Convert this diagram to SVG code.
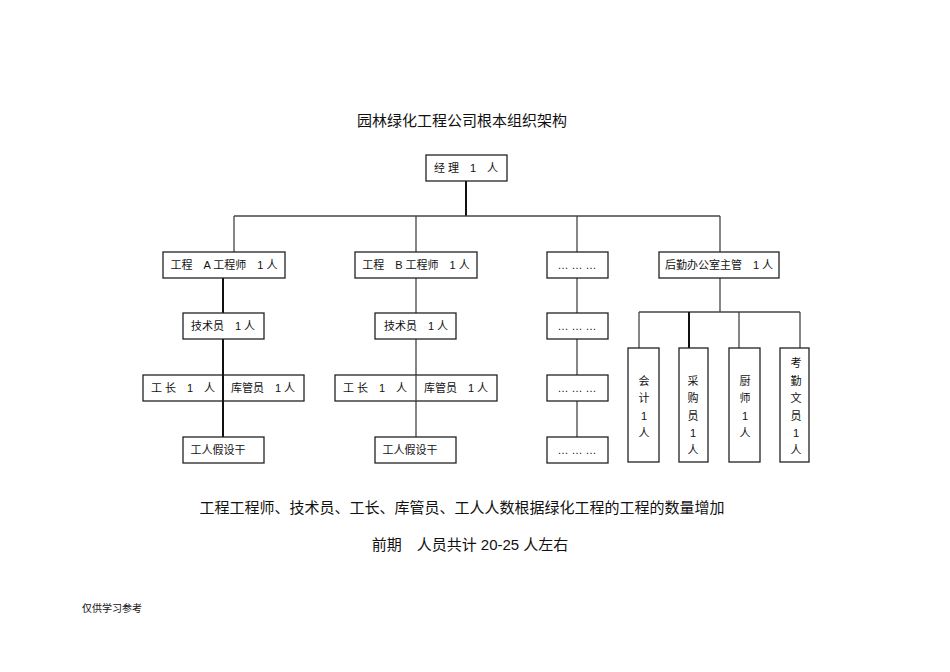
<svg xmlns="http://www.w3.org/2000/svg" width="950" height="672" viewBox="0 0 950 672">
<style>
.b{fill:#fff;stroke:#222;stroke-width:1.3}
.l{stroke:#444;stroke-width:1.3;fill:none}
.k{stroke:#111;stroke-width:2}
text{font-family:"Liberation Sans","Noto Sans CJK SC",sans-serif;font-size:11px;fill:#111;text-anchor:middle}
.t{font-size:15px}
</style>
<rect width="950" height="672" fill="#fff"/>
<g id="connectors">
<line class="k" x1="466" y1="181" x2="466" y2="216"/>
<line class="l" x1="234" y1="216" x2="720" y2="216"/>
<line class="l" x1="234" y1="216" x2="234" y2="252"/>
<line class="l" x1="416" y1="216" x2="416" y2="252"/>
<line class="l" x1="577" y1="216" x2="577" y2="252"/>
<line class="l" x1="720" y1="216" x2="720" y2="252"/>
<line class="k" x1="223" y1="278" x2="223" y2="437"/>
<line class="l" x1="416" y1="278" x2="416" y2="437"/>
<line class="l" x1="577" y1="278" x2="577" y2="437"/>
<line class="l" x1="720" y1="278" x2="720" y2="312"/>
<line class="l" x1="639" y1="312" x2="800" y2="312"/>
<line class="l" x1="639" y1="312" x2="639" y2="348"/>
<line class="k" x1="689" y1="312" x2="689" y2="348"/>
<line class="l" x1="739" y1="312" x2="739" y2="348"/>
<line class="l" x1="800" y1="312" x2="800" y2="348"/>
</g>
<text class="t" x="462" y="126">园林绿化工程公司根本组织架构</text>
<g id="mgr"><rect class="b" x="426" y="155" width="81" height="26"/><text x="466" y="172">经 理　1　人</text></g>
<g id="engA"><rect class="b" x="163" y="252" width="122" height="26"/><text x="224" y="269">工程　A 工程师　1 人</text></g>
<g id="engB"><rect class="b" x="355" y="252" width="122" height="26"/><text x="416" y="269">工程　B 工程师　1 人</text></g>
<g id="dot1"><rect class="b" x="547" y="252" width="61" height="26"/><text x="577" y="269">… … …</text></g>
<g id="log"><rect class="b" x="659" y="252" width="120" height="26"/><text x="719" y="269">后勤办公室主管　1 人</text></g>
<g id="techA"><rect class="b" x="183" y="313" width="81" height="26"/><text x="223" y="330">技术员　1 人</text></g>
<g id="techB"><rect class="b" x="375" y="313" width="81" height="26"/><text x="416" y="330">技术员　1 人</text></g>
<g id="dot2"><rect class="b" x="547" y="313" width="61" height="26"/><text x="577" y="330">… … …</text></g>
<g id="rowA"><rect class="b" x="143" y="375" width="161" height="26"/><line class="k" x1="223" y1="375" x2="223" y2="401"/><text x="183" y="392">工 长　1　人</text><text x="263" y="392">库管员　1 人</text></g>
<g id="rowB"><rect class="b" x="335" y="375" width="162" height="26"/><line class="l" x1="416" y1="375" x2="416" y2="401"/><text x="375" y="392">工 长　1　人</text><text x="456" y="392">库管员　1 人</text></g>
<g id="dot3"><rect class="b" x="547" y="375" width="61" height="26"/><text x="577" y="392">… … …</text></g>
<g id="wA"><rect class="b" x="183" y="437" width="81" height="26"/><text x="218" y="454">工人假设干</text></g>
<g id="wB"><rect class="b" x="375" y="437" width="81" height="26"/><text x="410" y="454">工人假设干</text></g>
<g id="dot4"><rect class="b" x="547" y="437" width="61" height="26"/><text x="577" y="454">… … …</text></g>
<g id="acc"><rect class="b" x="628" y="348" width="31" height="114"/><text x="644" y="385">会</text><text x="644" y="402">计</text><text x="644" y="420">1</text><text x="644" y="437">人</text></g>
<g id="pur"><rect class="b" x="679" y="348" width="29" height="114"/><text x="693" y="385">采</text><text x="693" y="402">购</text><text x="693" y="420">员</text><text x="693" y="437">1</text><text x="693" y="454">人</text></g>
<g id="chef"><rect class="b" x="729" y="348" width="31" height="114"/><text x="745" y="385">厨</text><text x="745" y="402">师</text><text x="745" y="420">1</text><text x="745" y="437">人</text></g>
<g id="clerk"><rect class="b" x="780" y="348" width="29" height="114"/><text x="796" y="367">考</text><text x="796" y="385">勤</text><text x="796" y="402">文</text><text x="796" y="420">员</text><text x="796" y="437">1</text><text x="796" y="454">人</text></g>
<text class="t" x="462" y="513">工程工程师、技术员、工长、库管员、工人人数根据绿化工程的工程的数量增加</text>
<text class="t" x="470" y="550">前期　人员共计  20-25 人左右</text>
<text x="112" y="612" style="font-size:10px">仅供学习参考</text>
</svg>
